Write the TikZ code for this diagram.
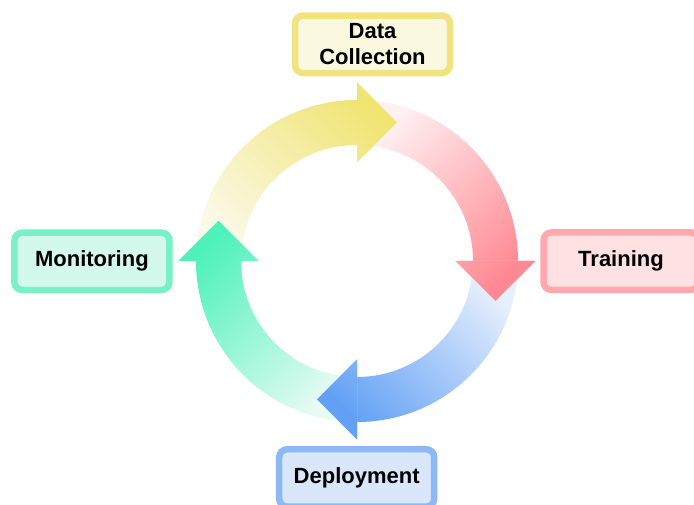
\documentclass[tikz,border=0pt]{standalone}
\usepackage{fontspec}
\setmainfont{Liberation Sans}
\usetikzlibrary{calc}
\definecolor{ydark}{RGB}{240,228,115}
\definecolor{ylight}{RGB}{251,249,232}
\definecolor{pdark}{RGB}{255,137,146}
\definecolor{plight}{RGB}{255,240,242}
\definecolor{bdark}{RGB}{98,160,245}
\definecolor{blight}{RGB}{230,239,252}
\definecolor{gdark}{RGB}{79,241,187}
\definecolor{glight}{RGB}{230,251,243}
\definecolor{yfill}{RGB}{250,248,222}
\definecolor{yline}{RGB}{240,227,128}
\definecolor{pfill}{RGB}{255,224,227}
\definecolor{pline}{RGB}{255,168,174}
\definecolor{gfill}{RGB}{210,249,235}
\definecolor{gline}{RGB}{120,241,201}
\definecolor{bfill}{RGB}{218,231,251}
\definecolor{bline}{RGB}{140,184,245}
\begin{document}
\begin{tikzpicture}[x=1pt,y=1pt,
  stagebox/.style={draw, line width=6.5pt, rounded corners=8pt,
    minimum width=155pt, minimum height=57.5pt, inner sep=0pt,
    font=\fontsize{22}{25.7}\selectfont\bfseries, align=center},
  cyclearrow/.style={insert path={($(C)+(#1+90:161)$)
    arc[start angle=#1+90, end angle=#1, radius=161]
    -- ($(C)+(#1:178.5)$) -- ($(C)+(#1:138.5)+(#1-90:40)$)
    -- ($(C)+(#1:98.5)$) -- ($(C)+(#1:116)$)
    arc[start angle=#1, end angle=#1+90, radius=116] -- cycle}},
  headclip/.style={insert path={($(C)+(#1:178.5)$)
    -- ($(C)+(#1:138.5)+(#1-90:40)$) -- ($(C)+(#1:98.5)$) -- cycle}},
  yshade/.style={top color=ydark, bottom color=ylight, shading angle=-45},
  pshade/.style={top color=pdark, bottom color=plight, shading angle=-135},
  bshade/.style={top color=bdark, bottom color=blight, shading angle=135},
  gshade/.style={top color=gdark, bottom color=glight, shading angle=45}]
\useasboundingbox (0,0) rectangle (694,505);
\coordinate (C) at (357,244);
% bands
\shade[yshade, cyclearrow=90];
\shade[pshade, cyclearrow=0];
\shade[bshade, cyclearrow=-90];
\shade[gshade, cyclearrow=180];
% heads on top
\begin{scope}\path[clip, headclip=90];\shade[yshade, cyclearrow=90];\end{scope}
\begin{scope}\path[clip, headclip=0];\shade[pshade, cyclearrow=0];\end{scope}
\begin{scope}\path[clip, headclip=-90];\shade[bshade, cyclearrow=-90];\end{scope}
\begin{scope}\path[clip, headclip=180];\shade[gshade, cyclearrow=180];\end{scope}
% stage boxes
\node[stagebox, draw=yline, fill=yfill] (collect) at (372.5,460.7) {Data\\Collection};
\node[stagebox, draw=pline, fill=pfill] (train) at (621,243.8) {Training};
\node[stagebox, draw=bline, fill=bfill] (deploy) at (356.7,27) {Deployment};
\node[stagebox, draw=gline, fill=gfill] (monitor) at (91.9,243.7) {Monitoring};
\end{tikzpicture}
\end{document}
